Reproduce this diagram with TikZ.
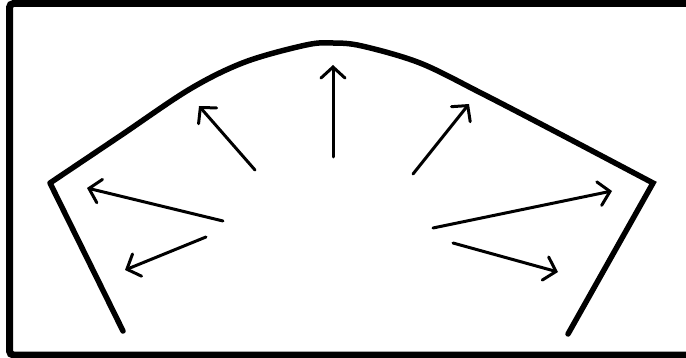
\documentclass[tikz,border=0pt]{standalone}
\usetikzlibrary{arrows.meta}
\begin{document}
\begin{tikzpicture}[x=1pt,y=-1pt,
  frame/.style={line width=7pt},
  wall/.style={line width=5.5pt,line cap=round,line join=miter},
  ray/.style={line width=3pt,line cap=round,-{Straight Barb[length=11pt,width=24pt,line cap=round]}}]
\useasboundingbox (0,0) rectangle (686,358);
\fill[white] (0,0) rectangle (686,358);
% frame
\draw[frame,rounded corners=4pt] (700,3.5) -- (9.5,3.5) -- (9.5,355) -- (700,355);
% corners and ends
\coordinate (lb) at (123,331);
\coordinate (lc) at (50,183);
\coordinate (rc) at (653,183);
\coordinate (rb) at (568,334);
\draw[wall] (lb) -- (lc) plot[smooth,tension=0.55] coordinates{(50,183) (120,136) (190,89) (245,62) (306,45) (333,43) (362,46) (420,63) (481,93) (560,134) (653,183)} -- (rb);
% rays
\coordinate (t1) at (223,221); \coordinate (h1) at (87,188);
\coordinate (t2) at (206,237); \coordinate (h2) at (125,270);
\coordinate (t3) at (255,170); \coordinate (h3) at (199,106);
\coordinate (t4) at (333,157); \coordinate (h4) at (333,65);
\coordinate (t5) at (413,174); \coordinate (h5) at (469,104);
\coordinate (t6) at (433,228); \coordinate (h6) at (612,191);
\coordinate (t7) at (453,243); \coordinate (h7) at (558,272);
\foreach \i in {1,...,7} \draw[ray] (t\i) -- (h\i);
\end{tikzpicture}
\end{document}
